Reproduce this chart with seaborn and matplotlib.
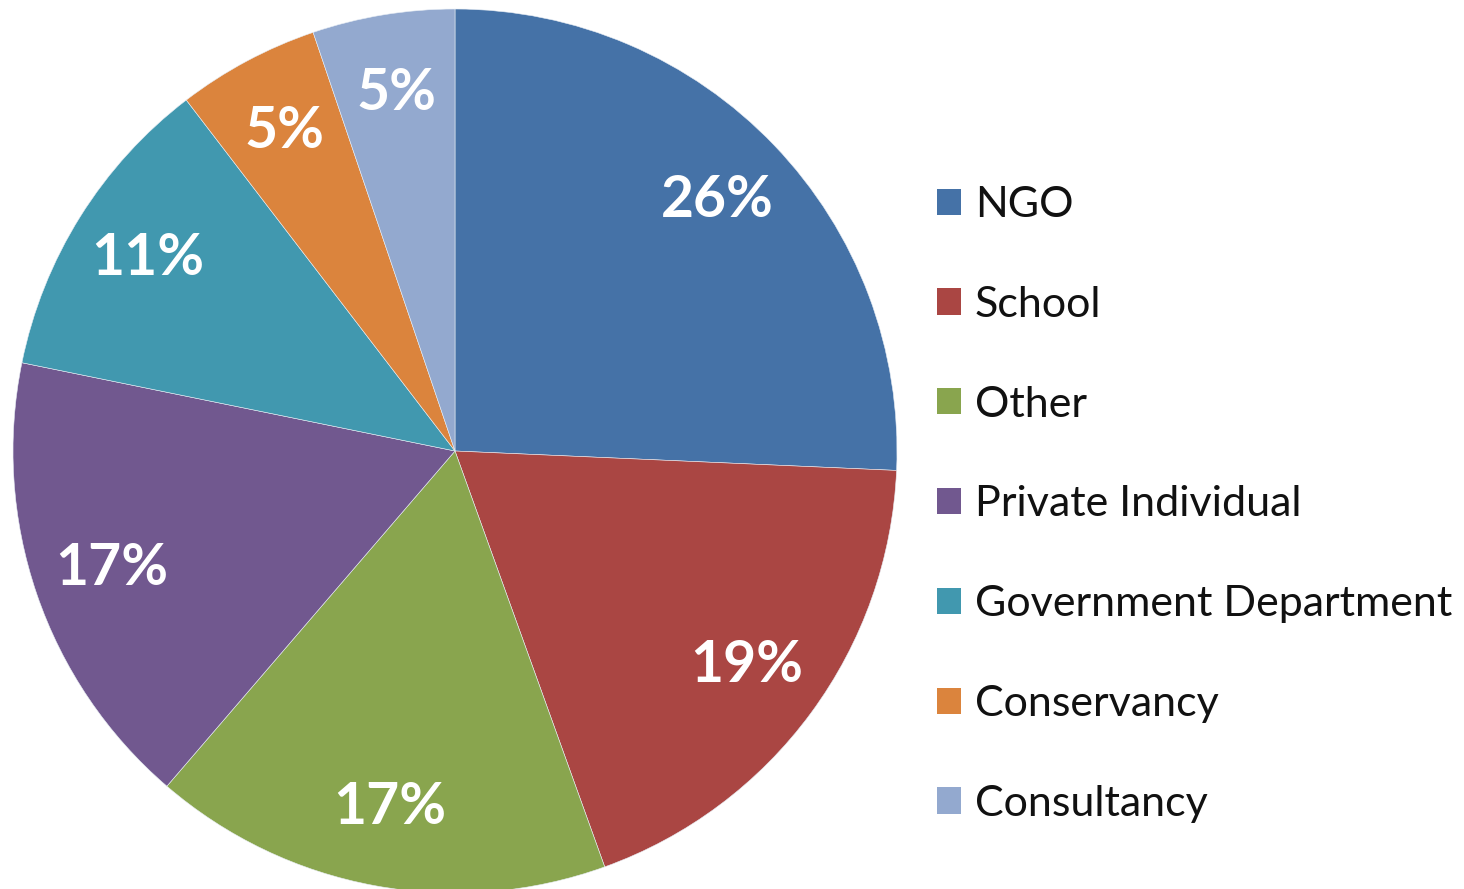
import matplotlib
matplotlib.use("Agg")
import matplotlib.pyplot as plt
import matplotlib.patches as mpatches
import seaborn as sns

categories = ["NGO", "School", "Other", "Private Individual",
              "Government Department", "Conservancy", "Consultancy"]
shares = [25.7, 18.8, 16.8, 16.9, 11.4, 5.2, 5.2]
colors = ["#4572A7", "#AA4643", "#89A54E", "#71588F",
          "#4198AF", "#DB843D", "#93A9CF"]

sns.set_theme(style="white")
plt.rcParams["font.family"] = ["Lato", "DejaVu Sans"]

W, H = 1464, 889
fig = plt.figure(figsize=(W / 100, H / 100), dpi=100)
fig.patch.set_facecolor("white")

cx, cy, r = 455, 451, 442
ax = fig.add_axes([(cx - r) / W, (H - cy - r) / H, 2 * r / W, 2 * r / H])

wedges, _, autotexts = ax.pie(
    shares,
    colors=colors,
    startangle=90,
    counterclock=False,
    radius=1.0,
    autopct=lambda p: f"{p:.0f}%",
    pctdistance=0.82,
    wedgeprops=dict(edgecolor="#e8eef5", linewidth=0.4),
    textprops=dict(color="white", fontsize=41, fontweight="bold"),
)
ax.set_xlim(-1, 1)
ax.set_ylim(-1, 1)
ax.set_aspect("equal")
ax.axis("off")

handles = [mpatches.Patch(facecolor=c, edgecolor="none") for c in colors]
fs = 31
fig.legend(
    handles, categories,
    loc="upper left",
    bbox_to_anchor=(937 / W, (H - 186) / H),
    frameon=False,
    fontsize=fs,
    labelcolor="#111111",
    handlelength=0.56,
    handleheight=0.56,
    handletextpad=0.32,
    labelspacing=1.435,
    borderpad=0,
    borderaxespad=0,
)

fig.savefig("out.png", dpi=100, facecolor="white")
